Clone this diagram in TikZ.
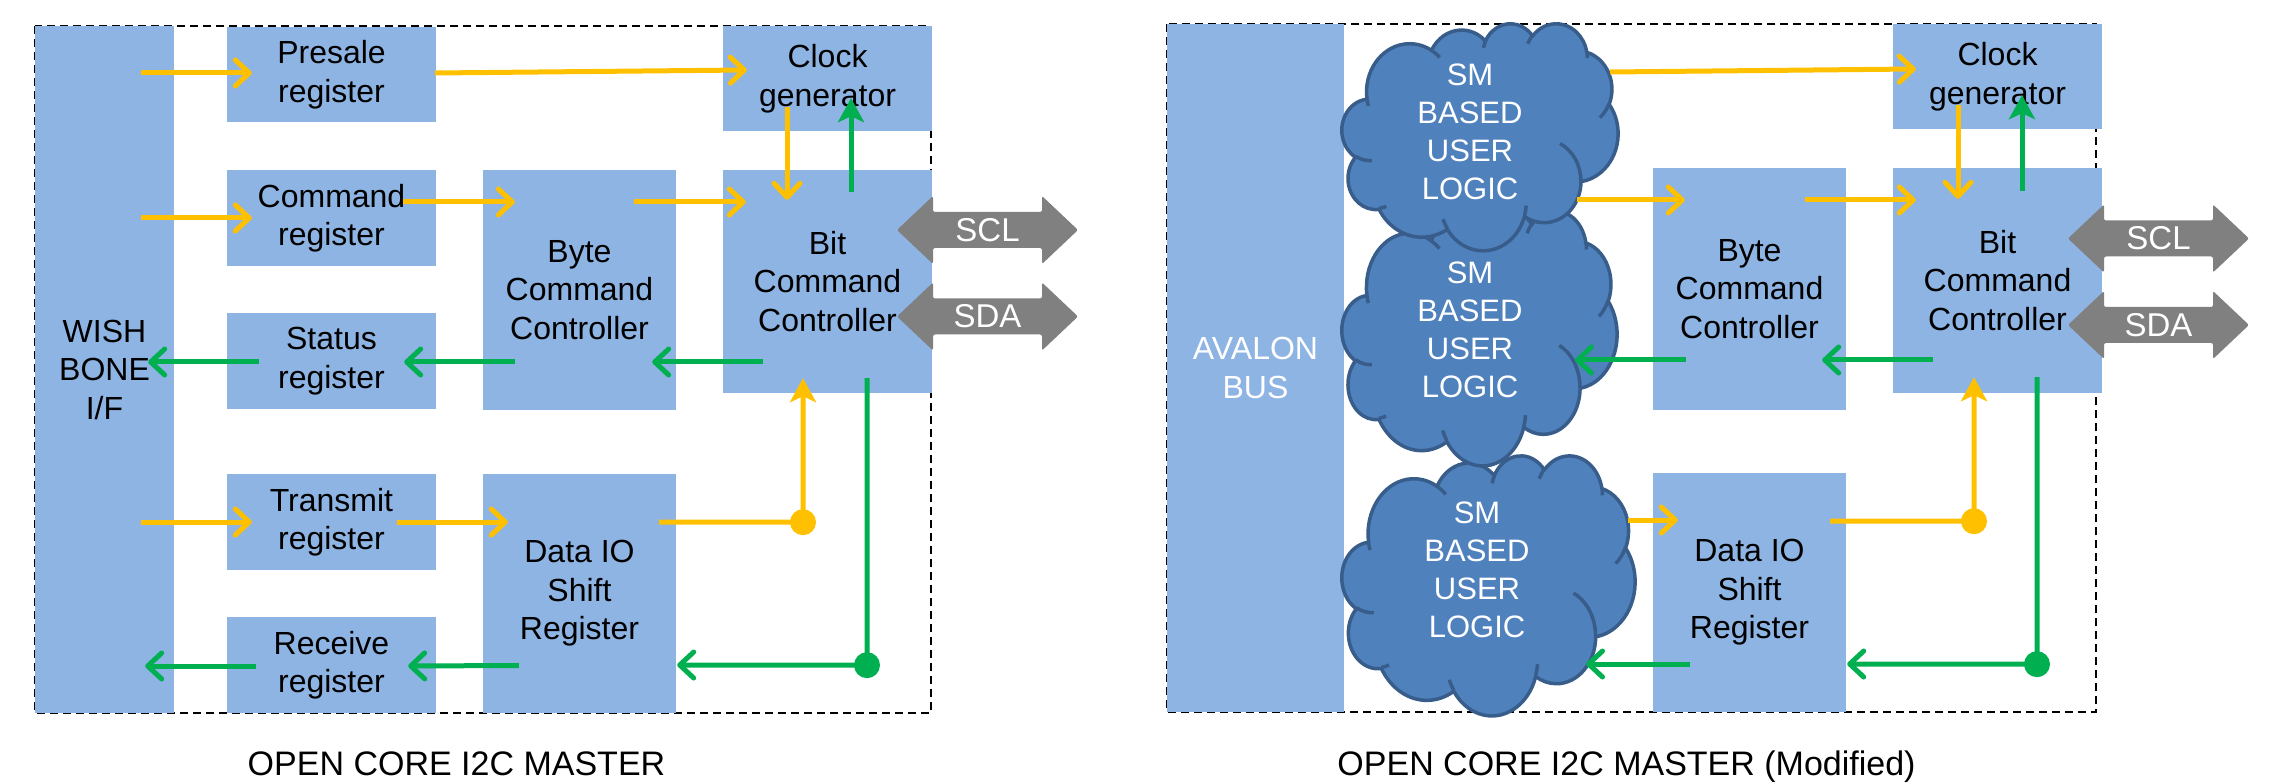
\documentclass[tikz,border=0pt]{standalone}
\usepackage{fontspec}
\setmainfont{Liberation Sans}
\usetikzlibrary{arrows.meta,calc}
\definecolor{boxblue}{HTML}{8EB4E3}
\definecolor{cloudfill}{HTML}{4F81BD}
\definecolor{cloudline}{HTML}{385D8A}
\definecolor{cyel}{HTML}{FFC000}
\definecolor{cgreen}{HTML}{00B050}
\definecolor{cgray}{HTML}{808080}
\newcommand\boxfont{\fontsize{32}{38.5}\selectfont}
\newcommand\cloudfont{\fontsize{31}{38}\selectfont}
\newcommand\sigfont{\fontsize{33}{38}\selectfont}
\newcommand\capfont{\fontsize{34}{40}\selectfont}
% DrawingML arcTo (visual angles) -> TikZ parametric arc
\newcommand\ccalc[4]{%
  \pgfmathsetmacro\ctaa{atan2((#1)*sin(#3),(#2)*cos(#3))}%
  \pgfmathsetmacro\ctbb{atan2((#1)*sin((#3)+(#4)),(#2)*cos((#3)+(#4)))}%
  \pgfmathsetmacro\cdtt{\ctbb-\ctaa}%
  \pgfmathsetmacro\cdtt{\cdtt<0 ? \cdtt+360 : \cdtt}%
  \xdef\cta{\ctaa}\xdef\cdt{\cdtt}}
\newcommand\carc[4]{\pgfextra{\ccalc{#1}{#2}{#3}{#4}} arc[x radius=#1, y radius=#2, start angle=\cta, delta angle=\cdt]}
\newcommand\cloudshape[4]{%
  \begin{scope}[shift={(#1,#2)},xscale=#3/432,yscale=#4/432]
    \filldraw[cloudst] (39.00,143.70)
      \carc{67.53}{91.90}{-190.487}{123.781}
      \carc{53.33}{72.67}{-144.102}{89.945}
      \carc{43.65}{59.45}{-145.808}{99.723}
      \carc{48.57}{65.95}{-130.986}{117.242}
      \carc{53.33}{72.73}{-78.709}{109.027}
      \carc{67.75}{92.20}{-46.267}{130.269}
      \carc{57.85}{78.67}{0.625}{114.033}
      \carc{67.52}{92.15}{22.452}{115.173}
      \carc{77.20}{105.43}{66.243}{75.711}
      \carc{43.60}{59.18}{-274.942}{146.736}
      \carc{43.45}{59.45}{-246.829}{152.519}
      -- cycle;
    \draw[cloudst,fill=none]
      (46.93,261.77) \carc{43.45}{59.45}{86.742}{26.430}
      (69.28,348.99) \carc{43.60}{59.18}{73.610}{11.447}
      (164.78,390.90) \carc{67.52}{92.15}{137.624}{14.081}
      (288.27,347.51) \carc{67.52}{92.15}{6.453}{15.998}
      (341.29,229.54) \carc{57.85}{78.67}{-70.292}{70.917}
      (417.98,153.54) \carc{53.33}{72.73}{30.318}{27.752}
      (383.24,54.26) \carc{48.57}{65.95}{-13.744}{14.859}
      (290.78,39.52) \carc{48.57}{65.95}{-149.181}{18.195}
      (221.41,47.20) \carc{43.65}{59.45}{-163.494}{17.686}
      (140.00,51.92) \carc{67.53}{91.90}{-66.707}{12.319}
      (41.27,157.89) \carc{67.53}{91.90}{157.654}{11.858};
  \end{scope}}
\newcommand\blockarrow[4]{%
  \begin{scope}[shift={(#1,#2)}]
    \fill[blockst] (-90.5,0) -- (-54.5,-34) -- (-54.5,-18) -- (54.5,-18) -- (54.5,-34)
      -- (90.5,0) -- (54.5,34) -- (54.5,18) -- (-54.5,18) -- (-54.5,34) -- cycle;
    \node[sig] (#3) at (0,0) {#4};
  \end{scope}}
\begin{document}
\begin{tikzpicture}[x=1pt,y=-1pt,
  box/.style={fill=boxblue, inner sep=0pt, align=center, font=\boxfont},
  wbox/.style={box, text=white},
  ctext/.style={align=center, text=white, font=\cloudfont, inner sep=0pt},
  sig/.style={text=white, font=\sigfont, inner sep=0pt},
  captxt/.style={font=\capfont, inner sep=0pt},
  dashframe/.style={draw=black, line width=2.5pt, dash pattern=on 8pt off 5pt},
  yarr/.style={draw=cyel, line width=5pt, -{Straight Barb[length=14pt,width=26pt,round]}},
  garr/.style={draw=cgreen, line width=5pt, -{Straight Barb[length=14pt,width=26pt,round]}},
  yup/.style={draw=cyel, line width=5pt, -{Stealth[length=24pt,width=26pt,inset=6pt]}},
  gup/.style={draw=cgreen, line width=5pt, -{Stealth[length=24pt,width=26pt,inset=6pt]}},
  jdot/.style={circle, inner sep=0pt, minimum size=26pt, fill=#1},
  cloudst/.style={draw=cloudline, fill=cloudfill, line width=3.5pt, line join=round},
  blockst/.style={fill=cgray, rounded corners=2pt},
]
\useasboundingbox (0,0) rectangle (2276,783);

% ===================== LEFT DIAGRAM =====================
\draw[dashframe] (35,26) rectangle (931,713);
\node[box, minimum width=139pt, minimum height=687pt] (wb) at (104.5,369.5) {WISH\\BONE\\I/F};
\node[box, minimum width=209pt, minimum height=95pt] (presale) at (331.5,74.5) {Presale\\register};
\node[box, minimum width=209pt, minimum height=96pt] (cmdreg) at (331.5,218) {Command\\register};
\node[box, minimum width=209pt, minimum height=96pt] (status) at (331.5,361) {Status\\register};
\node[box, minimum width=209pt, minimum height=96pt] (transmit) at (331.5,522) {Transmit\\register};
\node[box, minimum width=209pt, minimum height=96pt] (receive) at (331.5,665) {Receive\\register};
\node[box, minimum width=193pt, minimum height=240pt] (byte) at (579.5,290) {Byte\\Command\\Controller};
\node[box, minimum width=193pt, minimum height=239pt] (dataio) at (579.5,593.5) {Data IO\\Shift\\Register};
\node[box, minimum width=209pt, minimum height=105pt] (clock) at (827.5,78.5) {Clock\\generator};
\node[box, minimum width=209pt, minimum height=223pt] (bit) at (827.5,281.5) {Bit\\Command\\Controller};

\blockarrow{987.5}{230}{scl}{SCL}
\blockarrow{987.5}{316.5}{sda}{SDA}

\node[jdot=cyel] (yd) at ($(bit.south)+(-24.5,129)$) {};
\node[jdot=cgreen] (gd) at ($(bit.south)+(39.5,272)$) {};

\draw[yarr] ($(wb.east|-presale.center)+(-33,-1.5)$) -- ($(presale.west)+(25,-1.5)$);
\draw[yarr] ($(presale.east)+(-1,-1.5)$) -- ($(clock.west)+(24,-8.5)$);
\draw[yarr] ($(wb.east|-cmdreg.center)+(-33,0)$) -- ($(cmdreg.west)+(25,0)$);
\draw[yarr] ($(cmdreg.east)+(-33,-16)$) -- ($(byte.west)+(32,-88)$);
\draw[yarr] ($(byte.east)+(-42,-88)$) -- ($(bit.west)+(23,-79.5)$);
\draw[yarr] ($(clock.south)+(-40.5,-24)$) -- ($(bit.north)+(-40.5,30)$);
\draw[gup] ($(bit.north)+(23.5,22)$) -- ($(clock.south)+(23.5,-33)$);
\draw[garr] ($(bit.west)+(40,80.5)$) -- ($(byte.east)+(-24,72)$);
\draw[garr] ($(byte.west)+(32,72)$) -- ($(status.east)+(-32,1)$);
\draw[garr] ($(status.west)+(32,1)$) -- ($(wb.east|-status.center)+(-26,1)$);
\draw[yarr] ($(wb.east|-transmit.center)+(-33,0)$) -- ($(transmit.west)+(25,0)$);
\draw[yarr] ($(transmit.east)+(-39,0)$) -- ($(dataio.west)+(25,-71.5)$);
\draw[yup] ($(dataio.east)+(-17,-71.5)$) -- (yd.center) -- ($(bit.south)+(-24.5,-15)$);
\draw[garr] ($(bit.south)+(39.5,-15)$) -- (gd.center) -- ($(dataio.east)+(1,71.5)$);
\draw[garr] ($(dataio.west)+(36,72)$) -- ($(receive.east)+(-28,1)$);
\draw[garr] ($(receive.west)+(29,1)$) -- ($(wb.east|-receive.center)+(-29,1)$);

\node[captxt, anchor=base] (cap1) at (456.5,775) {OPEN CORE I2C MASTER};

% ===================== RIGHT DIAGRAM =====================
\draw[dashframe] (1167,24) rectangle (2096,712);
\node[wbox, minimum width=177pt, minimum height=688pt] (avalon) at (1255.5,368) {AVALON\\BUS};
\node[box, minimum width=193pt, minimum height=242pt] (byte2) at (1749.5,289) {Byte\\Command\\Controller};
\node[box, minimum width=193pt, minimum height=239pt] (dataio2) at (1749.5,592.5) {Data IO\\Shift\\Register};
\node[box, minimum width=209pt, minimum height=105pt] (clock2) at (1997.5,76.5) {Clock\\generator};
\node[box, minimum width=209pt, minimum height=225pt] (bit2) at (1997.5,280.5) {Bit\\Command\\Controller};

\cloudshape{1342}{455}{293}{260}
\cloudshape{1342}{210}{275}{255}
\cloudshape{1342}{23}{276}{227}
\node[ctext] (c1) at (1470,132) {SM\\BASED\\USER\\LOGIC};
\node[ctext] (c2) at (1470,330) {SM\\BASED\\USER\\LOGIC};
\node[ctext] (c3) at (1477,570) {SM\\BASED\\USER\\LOGIC};

\blockarrow{2158.5}{238.5}{scl2}{SCL}
\blockarrow{2158.5}{325}{sda2}{SDA}

\node[jdot=cyel] (yd2) at ($(bit2.south)+(-23.5,128)$) {};
\node[jdot=cgreen] (gd2) at ($(bit2.south)+(39.5,271)$) {};

\draw[yarr] ($(c1.center)+(140,-60)$) -- ($(clock2.west)+(23,-7.5)$);
\draw[yarr] ($(c1.center)+(107,68)$) -- ($(byte2.west)+(32,-89)$);
\draw[yarr] ($(byte2.east)+(-41,-89)$) -- ($(bit2.west)+(23,-80.5)$);
\draw[yarr] ($(clock2.south)+(-39.5,-24)$) -- ($(bit2.north)+(-39.5,31)$);
\draw[gup] ($(bit2.north)+(24.5,23)$) -- ($(clock2.south)+(24.5,-34)$);
\draw[garr] ($(bit2.west)+(40,79.5)$) -- ($(byte2.east)+(-24,71)$);
\draw[garr] ($(byte2.west)+(33,71)$) -- ($(c2.center)+(105,30)$);
\draw[yarr] ($(c3.center)+(151,-50)$) -- ($(dataio2.west)+(25,-72.5)$);
\draw[yup] ($(dataio2.east)+(-16,-71.5)$) -- (yd2.center) -- ($(bit2.south)+(-23.5,-16)$);
\draw[garr] ($(bit2.south)+(39.5,-16)$) -- (gd2.center) -- ($(dataio2.east)+(1,71.5)$);
\draw[garr] ($(dataio2.west)+(37,71.5)$) -- ($(c3.center)+(109,94)$);

\node[captxt, anchor=base] (cap2) at (1626.5,775) {OPEN CORE I2C MASTER (Modified)};
\end{tikzpicture}
\end{document}
